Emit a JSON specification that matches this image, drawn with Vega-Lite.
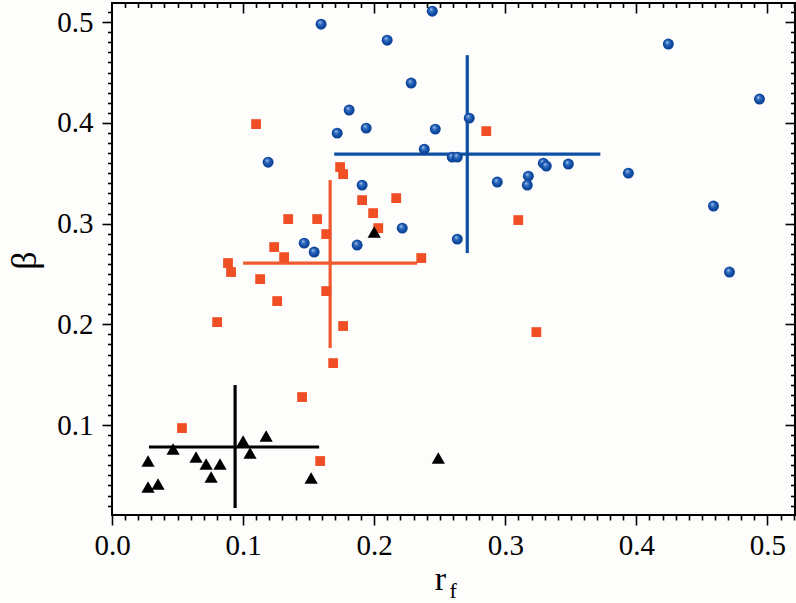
{
  "$schema": "https://vega.github.io/schema/vega-lite/v6.json",
  "width": 683,
  "height": 512,
  "autosize": "none",
  "padding": {"left": 112, "top": 3, "right": 1, "bottom": 88},
  "background": "#fdfdfc",
  "config": {
    "font": "Liberation Serif",
    "view": {"stroke": "black", "strokeWidth": 2},
    "text": {"font": "Liberation Serif"},
    "axis": {"grid": false, "domain": false, "labelFlush": false, "labelOverlap": false, "labelFont": "Liberation Serif, Times New Roman, Times, serif", "titleFont": "Liberation Serif, Times New Roman, Times, serif", "labelColor": "black", "titleColor": "black", "tickColor": "black", "tickWidth": 1.6}
  },
  "datasets": {
    "blue": [
      {"rf": 0.1595, "beta": 0.498}, {"rf": 0.2099, "beta": 0.4821}, {"rf": 0.2443, "beta": 0.5109},
      {"rf": 0.2282, "beta": 0.4395}, {"rf": 0.1809, "beta": 0.4127}, {"rf": 0.1718, "beta": 0.3898},
      {"rf": 0.1939, "beta": 0.3948}, {"rf": 0.1191, "beta": 0.361}, {"rf": 0.1908, "beta": 0.3382},
      {"rf": 0.1466, "beta": 0.2806}, {"rf": 0.1542, "beta": 0.2717}, {"rf": 0.187, "beta": 0.2787},
      {"rf": 0.2214, "beta": 0.2955}, {"rf": 0.2466, "beta": 0.3938}, {"rf": 0.2725, "beta": 0.4047},
      {"rf": 0.2382, "beta": 0.3739}, {"rf": 0.2595, "beta": 0.366}, {"rf": 0.2634, "beta": 0.366},
      {"rf": 0.329, "beta": 0.36}, {"rf": 0.3313, "beta": 0.3571}, {"rf": 0.3481, "beta": 0.3591},
      {"rf": 0.3939, "beta": 0.3501}, {"rf": 0.3176, "beta": 0.3471}, {"rf": 0.3168, "beta": 0.3382},
      {"rf": 0.2939, "beta": 0.3412}, {"rf": 0.4588, "beta": 0.3174}, {"rf": 0.2634, "beta": 0.2846},
      {"rf": 0.4244, "beta": 0.4782}, {"rf": 0.4939, "beta": 0.4236}, {"rf": 0.471, "beta": 0.2519}
    ],
    "red": [
      {"rf": 0.1099, "beta": 0.3988}, {"rf": 0.174, "beta": 0.3561}, {"rf": 0.1763, "beta": 0.3491},
      {"rf": 0.1908, "beta": 0.3233}, {"rf": 0.1992, "beta": 0.3104}, {"rf": 0.2031, "beta": 0.2955},
      {"rf": 0.2168, "beta": 0.3253}, {"rf": 0.1344, "beta": 0.3045}, {"rf": 0.1565, "beta": 0.3045},
      {"rf": 0.1634, "beta": 0.2896}, {"rf": 0.1237, "beta": 0.2767}, {"rf": 0.1313, "beta": 0.2667},
      {"rf": 0.0885, "beta": 0.2608}, {"rf": 0.0908, "beta": 0.2519}, {"rf": 0.113, "beta": 0.2449},
      {"rf": 0.1634, "beta": 0.233}, {"rf": 0.126, "beta": 0.2231}, {"rf": 0.0802, "beta": 0.2022},
      {"rf": 0.1763, "beta": 0.1983}, {"rf": 0.1687, "beta": 0.1615}, {"rf": 0.145, "beta": 0.1278},
      {"rf": 0.0534, "beta": 0.097}, {"rf": 0.1588, "beta": 0.0643}, {"rf": 0.2855, "beta": 0.3918},
      {"rf": 0.3099, "beta": 0.3035}, {"rf": 0.2359, "beta": 0.2658}, {"rf": 0.3237, "beta": 0.1923}
    ],
    "black": [
      {"rf": 0.0275, "beta": 0.0643}, {"rf": 0.0275, "beta": 0.0385}, {"rf": 0.0351, "beta": 0.0414},
      {"rf": 0.0466, "beta": 0.0762}, {"rf": 0.0641, "beta": 0.0682}, {"rf": 0.0718, "beta": 0.0613},
      {"rf": 0.0756, "beta": 0.0484}, {"rf": 0.0824, "beta": 0.0613}, {"rf": 0.1, "beta": 0.0841},
      {"rf": 0.1053, "beta": 0.0722}, {"rf": 0.1176, "beta": 0.0891}, {"rf": 0.1519, "beta": 0.0474},
      {"rf": 0.2, "beta": 0.2916}, {"rf": 0.2489, "beta": 0.0672}
    ],
    "cross": [
      {"group": "black", "rf": 0.0939, "rf_lo": 0.0282, "rf_hi": 0.158, "beta": 0.0782, "beta_lo": 0.0176, "beta_hi": 0.1397},
      {"group": "red", "rf": 0.1664, "rf_lo": 0.1, "rf_hi": 0.2328, "beta": 0.2608, "beta_lo": 0.1764, "beta_hi": 0.3432},
      {"group": "blue", "rf": 0.271, "rf_lo": 0.1695, "rf_hi": 0.3725, "beta": 0.369, "beta_lo": 0.2707, "beta_hi": 0.4672}
    ]
  },
  "resolve": {"axis": {"x": "independent", "y": "independent"}},
  "layer": [
    {
      "data": {"name": "cross"},
      "mark": {"type": "rule", "strokeWidth": 3.2},
      "encoding": {
        "x": {"field": "rf_lo", "type": "quantitative", "scale": {"domain": [0, 0.521], "nice": false, "zero": false},
          "axis": {"orient": "top", "values": [0.1, 0.2, 0.3, 0.4, 0.5], "tickSize": -10, "labels": false, "title": null}},
        "x2": {"field": "rf_hi"},
        "y": {"field": "beta", "type": "quantitative", "scale": {"domain": [0.0107, 0.519], "nice": false, "zero": false},
          "axis": {"orient": "right", "values": [0.1, 0.2, 0.3, 0.4, 0.5], "tickSize": -10, "labels": false, "title": null}},
        "color": {"field": "group", "type": "nominal", "scale": {"domain": ["black", "red", "blue"], "range": ["#000000", "#f05a30", "#0d4fa3"]}, "legend": null}
      }
    },
    {
      "data": {"name": "cross"},
      "mark": {"type": "rule", "strokeWidth": 3.2},
      "encoding": {
        "x": {"field": "rf", "type": "quantitative",
          "axis": {"orient": "top", "values": [0.01,0.02,0.03,0.04,0.05,0.06,0.07,0.08,0.09,0.11,0.12,0.13,0.14,0.15,0.16,0.17,0.18,0.19,0.21,0.22,0.23,0.24,0.25,0.26,0.27,0.28,0.29,0.31,0.32,0.33,0.34,0.35,0.36,0.37,0.38,0.39,0.41,0.42,0.43,0.44,0.45,0.46,0.47,0.48,0.49,0.51,0.52], "tickSize": -4.5, "labels": false, "title": null}},
        "y": {"field": "beta_lo", "type": "quantitative",
          "axis": {"orient": "right", "values": [0.02,0.03,0.04,0.05,0.06,0.07,0.08,0.09,0.11,0.12,0.13,0.14,0.15,0.16,0.17,0.18,0.19,0.21,0.22,0.23,0.24,0.25,0.26,0.27,0.28,0.29,0.31,0.32,0.33,0.34,0.35,0.36,0.37,0.38,0.39,0.41,0.42,0.43,0.44,0.45,0.46,0.47,0.48,0.49,0.51], "tickSize": -4.5, "labels": false, "title": null}},
        "y2": {"field": "beta_hi"},
        "color": {"field": "group", "type": "nominal", "legend": null}
      }
    },
    {
      "data": {"name": "blue"},
      "mark": {"type": "point", "shape": "circle", "filled": true, "opacity": 1, "size": 120,
        "fill": {"gradient": "radial", "x1": 0.38, "y1": 0.32, "r1": 0, "x2": 0.5, "y2": 0.5, "r2": 0.55,
          "stops": [{"offset": 0, "color": "#e4edf9"}, {"offset": 0.22, "color": "#4a80cc"}, {"offset": 0.6, "color": "#1150a8"}, {"offset": 1, "color": "#083a8a"}]}},
      "encoding": {
        "x": {"field": "rf", "type": "quantitative",
          "axis": {"orient": "bottom", "values": [0, 0.1, 0.2, 0.3, 0.4, 0.5], "format": ".1f", "tickSize": 10, "labelPadding": 6, "labelFontSize": 29,
            "title": "r", "titleFontSize": 34, "titleFontWeight": "normal", "titleX": 328, "titleY": 74, "titleAlign": "center", "titleBaseline": "alphabetic"}},
        "y": {"field": "beta", "type": "quantitative",
          "axis": {"orient": "left", "values": [0.1, 0.2, 0.3, 0.4, 0.5], "format": ".1f", "tickSize": 10, "labelPadding": 9, "labelFontSize": 29,
            "title": "β", "titleFontSize": 36, "titleFontWeight": "normal", "titleAngle": 270, "titleX": -77, "titleY": 257, "titleAlign": "center", "titleBaseline": "alphabetic"}}
      }
    },
    {
      "data": {"name": "red"},
      "mark": {"type": "point", "shape": "square", "filled": true, "opacity": 1, "size": 96, "color": "#f04f25"},
      "encoding": {
        "x": {"field": "rf", "type": "quantitative",
          "axis": {"orient": "bottom", "values": [0.01,0.02,0.03,0.04,0.05,0.06,0.07,0.08,0.09,0.11,0.12,0.13,0.14,0.15,0.16,0.17,0.18,0.19,0.21,0.22,0.23,0.24,0.25,0.26,0.27,0.28,0.29,0.31,0.32,0.33,0.34,0.35,0.36,0.37,0.38,0.39,0.41,0.42,0.43,0.44,0.45,0.46,0.47,0.48,0.49,0.51,0.52], "tickSize": 5, "labels": false, "title": null}},
        "y": {"field": "beta", "type": "quantitative",
          "axis": {"orient": "left", "values": [0.02,0.03,0.04,0.05,0.06,0.07,0.08,0.09,0.11,0.12,0.13,0.14,0.15,0.16,0.17,0.18,0.19,0.21,0.22,0.23,0.24,0.25,0.26,0.27,0.28,0.29,0.31,0.32,0.33,0.34,0.35,0.36,0.37,0.38,0.39,0.41,0.42,0.43,0.44,0.45,0.46,0.47,0.48,0.49,0.51], "tickSize": 4.5, "labels": false, "title": null}}
      }
    },
    {
      "data": {"name": "black"},
      "mark": {"type": "point", "shape": "triangle-up", "filled": true, "opacity": 1, "size": 175, "color": "#000000"},
      "encoding": {
        "x": {"field": "rf", "type": "quantitative", "axis": null},
        "y": {"field": "beta", "type": "quantitative", "axis": null}
      }
    },
    {
      "data": {"values": [{"label": "f"}]},
      "mark": {"type": "text", "font": "Liberation Serif", "fontSize": 22, "color": "black", "baseline": "alphabetic", "align": "center", "dy": 83},
      "encoding": {
        "x": {"datum": 0.2603, "type": "quantitative", "axis": null},
        "y": {"datum": 0.0107, "type": "quantitative", "axis": null},
        "text": {"field": "label"}
      }
    }
  ]
}
